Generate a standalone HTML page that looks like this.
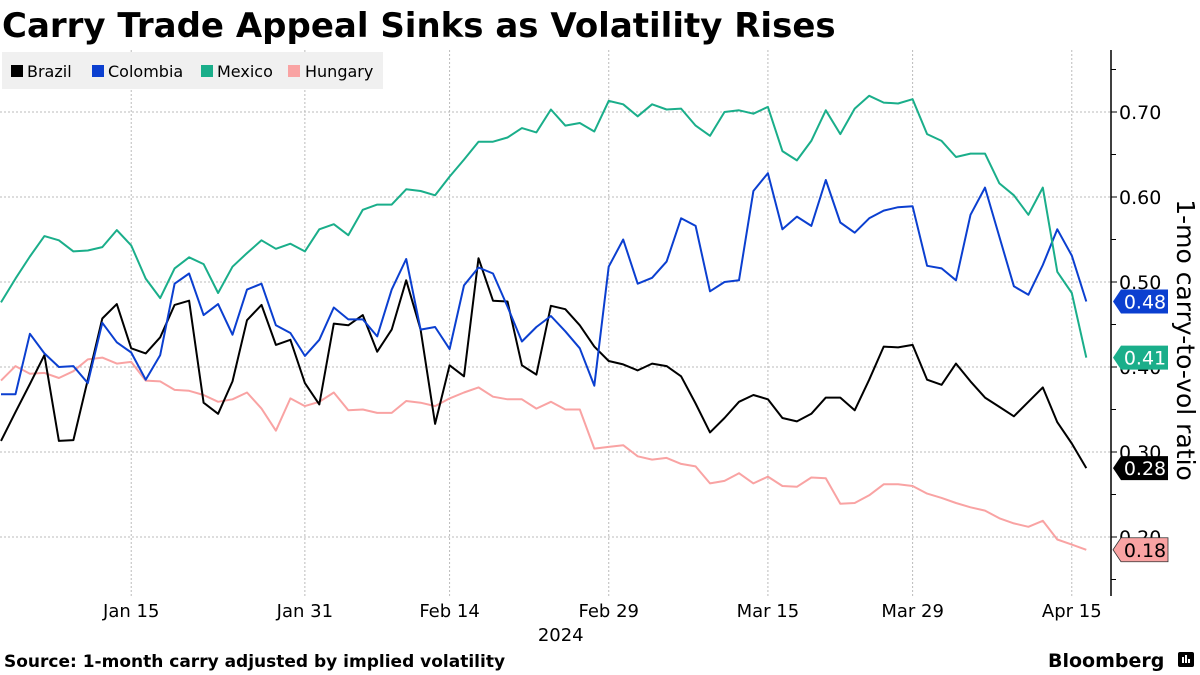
<!DOCTYPE html>
<html><head><meta charset="utf-8">
<style>
body{margin:0;background:#fff;width:1200px;height:675px;overflow:hidden;font-family:"Liberation Sans","DejaVu Sans",sans-serif;}
svg{display:block}
</style></head>
<body>
<svg id="chart" width="1200" height="675" xmlns="http://www.w3.org/2000/svg">
<text x="2" y="37" font-size="34" font-weight="bold" font-family="DejaVu Sans, sans-serif">Carry Trade Appeal Sinks as Volatility Rises</text>
<g id="grid"></g>
<g id="legend">
<rect x="2" y="52" width="381" height="37" fill="#f0f0f0"/>
<g><rect x="11" y="65" width="12" height="12" fill="#000"/><text x="27" y="77" font-size="16" font-family="DejaVu Sans, sans-serif">Brazil</text></g>
<g><rect x="92" y="65" width="12" height="12" fill="#0b3fd0"/><text x="108" y="77" font-size="16" font-family="DejaVu Sans, sans-serif">Colombia</text></g>
<g><rect x="201" y="65" width="12" height="12" fill="#1aae8a"/><text x="217" y="77" font-size="16" font-family="DejaVu Sans, sans-serif">Mexico</text></g>
<g><rect x="288" y="65" width="12" height="12" fill="#f9a3a3"/><text x="305" y="77" font-size="16" font-family="DejaVu Sans, sans-serif">Hungary</text></g>
</g>
<g id="series"></g>
<g id="axes"></g>
<g id="tags"></g>
<text x="1177" y="340" font-size="25" font-family="DejaVu Sans, sans-serif" text-anchor="middle" transform="rotate(90 1177 340)">1-mo carry-to-vol ratio</text>
<text x="4" y="667" font-size="17" font-weight="bold" font-family="DejaVu Sans, sans-serif">Source: 1-month carry adjusted by implied volatility</text>
<g>
<text x="1048" y="667" font-size="19" font-weight="bold" font-family="DejaVu Sans, sans-serif">Bloomberg</text>
<rect x="1178" y="652" width="16" height="15" rx="2" fill="#000"/>
<rect x="1182" y="657" width="2" height="6" fill="#fff"/><rect x="1185" y="655" width="2" height="8" fill="#fff"/><rect x="1188" y="659" width="2" height="4" fill="#fff"/>
</g>
</svg>
<script>
const brazil=[0.313,0.347,0.380,0.414,0.313,0.314,0.385,0.457,0.474,0.422,0.416,0.435,0.473,0.478,0.358,0.345,0.383,0.455,0.473,0.426,0.432,
0.381,0.356,0.451,0.449,0.461,0.418,0.444,0.502,0.444,0.333,0.402,0.389,0.528,0.478,0.477,0.402,0.391,0.472,0.468,0.449,
0.424,0.407,0.403,0.396,0.404,0.401,0.389,0.357,0.323,0.340,0.359,0.367,0.362,0.340,0.336,0.345,0.364,0.364,0.349,0.385,
0.424,0.423,0.426,0.385,0.379,0.404,0.383,0.364,0.353,0.342,0.359,0.376,0.335,0.310,0.281];
const colombia=[0.368,0.368,0.439,0.416,0.400,0.401,0.381,0.452,0.429,0.417,0.385,0.414,0.498,0.510,0.461,0.474,0.438,0.491,0.498,0.449,0.440,
0.413,0.432,0.470,0.456,0.456,0.436,0.491,0.527,0.444,0.447,0.421,0.496,0.517,0.510,0.471,0.430,0.447,0.460,0.442,0.422,
0.378,0.518,0.550,0.498,0.505,0.524,0.575,0.566,0.489,0.500,0.502,0.607,0.628,0.562,0.577,0.566,0.620,0.570,0.558,0.575,
0.584,0.588,0.589,0.519,0.516,0.502,0.579,0.611,0.553,0.495,0.485,0.520,0.562,0.531,0.477];
const mexico=[0.476,0.504,0.530,0.554,0.549,0.536,0.537,0.541,0.561,0.543,0.504,0.481,0.516,0.529,0.521,0.487,0.518,0.534,0.549,0.539,0.545,
0.536,0.562,0.568,0.555,0.585,0.591,0.591,0.609,0.607,0.602,0.624,0.644,0.665,0.665,0.670,0.681,0.676,0.703,0.684,0.687,
0.677,0.713,0.709,0.695,0.709,0.703,0.704,0.684,0.672,0.700,0.702,0.698,0.706,0.654,0.643,0.666,0.702,0.674,0.704,0.719,
0.711,0.710,0.715,0.674,0.666,0.647,0.651,0.651,0.616,0.602,0.579,0.611,0.512,0.487,0.411];
const hungary=[0.384,0.401,0.392,0.393,0.387,0.395,0.409,0.411,0.404,0.406,0.384,0.383,0.373,0.372,0.367,0.359,0.362,0.370,0.351,0.325,0.363,
0.354,0.359,0.370,0.349,0.350,0.346,0.346,0.360,0.358,0.354,0.363,0.370,0.376,0.365,0.362,0.362,0.351,0.359,0.350,0.350,
0.304,0.306,0.308,0.295,0.291,0.293,0.286,0.283,0.263,0.266,0.275,0.263,0.271,0.260,0.259,0.270,0.269,0.239,0.240,0.249,
0.262,0.262,0.260,0.251,0.246,0.240,0.235,0.231,0.222,0.216,0.212,0.219,0.197,0.191,0.185];
const xTickLabels=["Jan 15","Jan 31","Feb 14","Feb 29","Mar 15","Mar 29","Apr 15"];
const xTickIndex=[9,21,31,42,53,63,74];
const yTicks=[0.20,0.30,0.40,0.50,0.60,0.70];

const NS="http://www.w3.org/2000/svg";
const X=i=>1+i*14.47;
const Y=v=>112+(0.70-v)*850;
const AX=1111;
function mk(tag,attrs,parent){const e=document.createElementNS(NS,tag);for(const k in attrs)e.setAttribute(k,attrs[k]);parent.appendChild(e);return e;}
const grid=document.getElementById('grid'),axes=document.getElementById('axes'),ser=document.getElementById('series'),tags=document.getElementById('tags');
yTicks.forEach(v=>{
 const l=mk('line',{x1:0,x2:AX,y1:Y(v),y2:Y(v),stroke:'#bbb','stroke-dasharray':'2,2','stroke-width':1},grid);
 
 
 const t=mk('text',{x:AX+8,y:Y(v)+7,'font-size':19,'font-family':'DejaVu Sans, sans-serif'},axes);
 t.textContent=v.toFixed(2);
 
 
 mk('line',{x1:AX,x2:AX+6,y1:Y(v),y2:Y(v),stroke:'#000'},axes);
});
for(let v=0.15;v<0.76;v+=0.1){mk('line',{x1:AX,x2:AX+5,y1:Y(v),y2:Y(v),stroke:'#000'},axes);}
xTickIndex.forEach((ix,k)=>{
 const l=mk('line',{x1:X(ix),x2:X(ix),y1:50,y2:598,stroke:'#bbb','stroke-dasharray':'2,2'},grid);
 
 
 const t=mk('text',{x:X(ix),y:617,'font-size':18,'text-anchor':'middle','font-family':'DejaVu Sans, sans-serif'},axes);
 t.textContent=xTickLabels[k];
 
 
});
const yr=mk('text',{x:X(42)-48,y:641,'font-size':18,'text-anchor':'middle','font-family':'DejaVu Sans, sans-serif'},axes);
yr.textContent='2024';


mk('line',{x1:AX,x2:AX,y1:50,y2:596,stroke:'#000','stroke-width':1.5},axes);
const series=[["hungary",hungary,"#f9a3a3","#000"],["brazil",brazil,"#000","#fff"],["colombia",colombia,"#0b3fd0","#fff"],["mexico",mexico,"#1aae8a","#fff"]];
series.forEach(([n,d,c,tc])=>{
 const p=mk('polyline',{points:d.map((v,i)=>X(i).toFixed(1)+','+Y(v).toFixed(1)).join(' '),fill:'none',stroke:c,'stroke-width':2,'stroke-linejoin':'round'},ser);
 
 
 const last=d[d.length-1],y=Y(last);
 const g=mk('g',{},tags);
 
 
 mk('path',{d:`M${AX+2},${y} L${AX+10},${y-12} L${AX+57},${y-12} L${AX+57},${y+12} L${AX+10},${y+12} Z`,fill:c,stroke:n==='hungary'?'#333':'none','stroke-width':0.8},g);
 const t=mk('text',{x:AX+34,y:y+7,'font-size':19,'text-anchor':'middle',fill:tc,'font-family':'DejaVu Sans, sans-serif'},g);
 t.textContent=last.toFixed(2);
});
</script>
</body></html>
